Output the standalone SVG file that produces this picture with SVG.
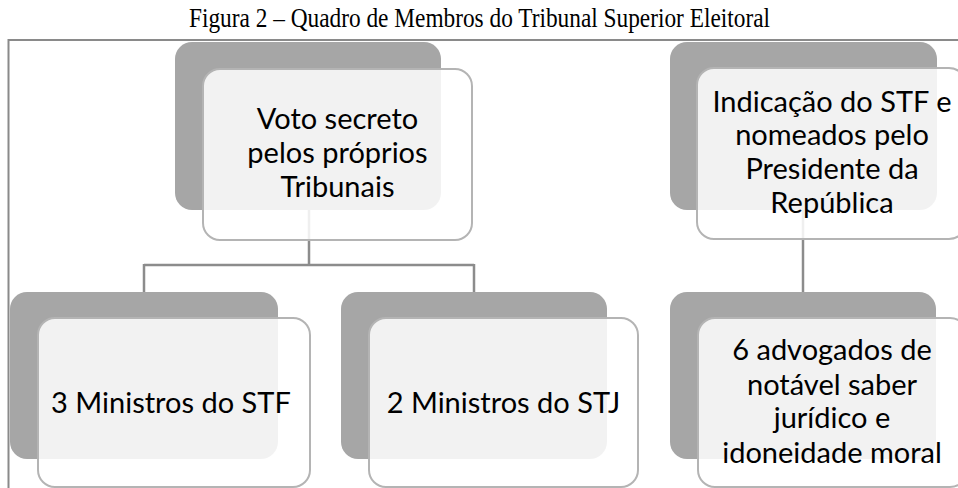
<svg xmlns="http://www.w3.org/2000/svg" width="958" height="488" viewBox="0 0 958 488">
  <style>
    .title { font-family: "Liberation Serif", "Times New Roman", serif; font-size: 28px; fill: #000; }
    .back { fill: #a6a6a6; }
    .front { fill: #ffffff; fill-opacity: 0.86; stroke: #b4b4b4; stroke-width: 2; }
    .lbl { font-family: Lato, "Liberation Sans", sans-serif; font-size: 29px; fill: #000; text-anchor: middle; }
    .conn { stroke: #8c8c8c; stroke-width: 2.5; fill: none; }
    .frame { stroke: #8a8a8a; stroke-width: 2; fill: none; }
  </style>
  <rect x="0" y="0" width="958" height="488" fill="#ffffff"/>
  <text class="title" x="189" y="27" textLength="581" lengthAdjust="spacingAndGlyphs">Figura 2 – Quadro de Membros do Tribunal Superior Eleitoral</text>
  <path class="frame" d="M8.5 488 V40 H958"/>

  <g id="connectors">
    <path class="conn" d="M309 210 V265 M144 265 H474 M144 264 V292 M474 264 V292"/>
    <path class="conn" d="M803 210 V292"/>
  </g>

  <g id="node-voto">
    <rect class="back" x="175" y="42" width="266" height="168" rx="17"/>
    <rect class="front" x="203" y="69" width="269" height="171" rx="17"/>
    <text class="lbl" x="337.5" y="129">Voto secreto</text>
    <text class="lbl" x="337.5" y="163">pelos próprios</text>
    <text class="lbl" x="337.5" y="197">Tribunais</text>
  </g>

  <g id="node-indicacao">
    <rect class="back" x="670" y="42" width="267" height="168" rx="17"/>
    <rect class="front" x="697" y="68" width="269" height="171" rx="17"/>
    <text class="lbl" x="832" y="112">Indicação do STF e</text>
    <text class="lbl" x="832" y="145">nomeados pelo</text>
    <text class="lbl" x="832" y="179">Presidente da</text>
    <text class="lbl" x="832" y="213">República</text>
  </g>

  <g id="node-stf">
    <rect class="back" x="10" y="292" width="268" height="167" rx="17"/>
    <rect class="front" x="38" y="318" width="272" height="169" rx="17"/>
    <text class="lbl" x="171" y="413">3 Ministros do STF</text>
  </g>

  <g id="node-stj">
    <rect class="back" x="341" y="292" width="266" height="167" rx="17"/>
    <rect class="front" x="369" y="318" width="269" height="169" rx="17"/>
    <text class="lbl" x="503.5" y="413">2 Ministros do STJ</text>
  </g>

  <g id="node-advogados">
    <rect class="back" x="670" y="292" width="266" height="167" rx="17"/>
    <rect class="front" x="698" y="318" width="269" height="169" rx="17"/>
    <text class="lbl" x="832" y="360">6 advogados de</text>
    <text class="lbl" x="832" y="395">notável saber</text>
    <text class="lbl" x="832" y="428">jurídico e</text>
    <text class="lbl" x="832" y="463">idoneidade moral</text>
  </g>
</svg>
